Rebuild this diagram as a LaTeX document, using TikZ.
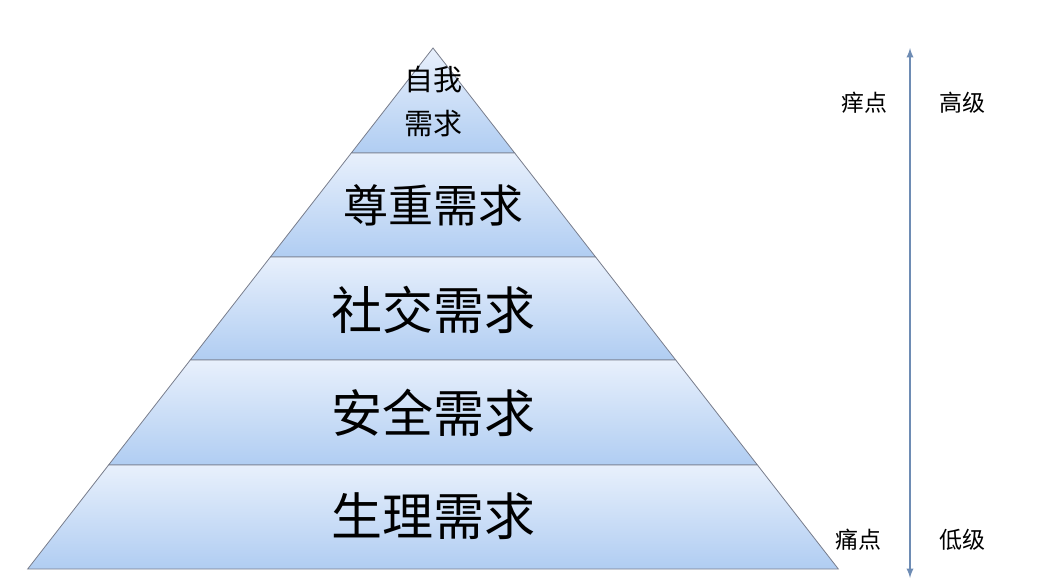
\documentclass[tikz,border=0pt]{standalone}
\usepackage{fontspec}
\setmainfont{Noto Sans CJK SC}
\definecolor{bandbot}{RGB}{176,205,242}
\definecolor{bandtop}{RGB}{232,240,252}
\definecolor{edge}{RGB}{120,125,140}
\definecolor{arr}{RGB}{110,140,180}
\begin{document}
\begin{tikzpicture}[x=1pt,y=-1pt,
  band/.style={top color=bandtop, bottom color=bandbot, draw=edge, line width=0.8pt},
  lab/.style={inner sep=0pt},
  side/.style={font=\fontsize{23}{24}\selectfont, inner sep=0pt}]
\useasboundingbox (0,0) rectangle (1048,582);
\foreach \a/\b in {48/153,153/257,257/360,360/465,465/569}{
  \pgfmathsetmacro\la{433-0.778*(\a-48)}
  \pgfmathsetmacro\ra{433+0.778*(\a-48)}
  \pgfmathsetmacro\lb{433-0.778*(\b-48)}
  \pgfmathsetmacro\rb{433+0.778*(\b-48)}
  \path[band] (\la,\a) -- (\ra,\a) -- (\rb,\b) -- (\lb,\b) -- cycle;
}
\node[lab,font=\fontsize{29}{44}\selectfont,align=center] (t1) at (433,101) {自我\\需求};
\node[lab,font=\fontsize{45}{46}\selectfont] (t2) at (433,205) {尊重需求};
\node[lab,font=\fontsize{51}{52}\selectfont] (t3) at (433,310) {社交需求};
\node[lab,font=\fontsize{51}{52}\selectfont] (t4) at (433,413) {安全需求};
\node[lab,font=\fontsize{51}{52}\selectfont] (t5) at (433,516) {生理需求};
\coordinate (top) at (910,48);
\coordinate (bot) at (910,578);
\draw[arr, line width=2.2pt, <->, >=latex] (bot) -- (top);
\node[side] (a) at (864,103) {痒点};
\node[side] (b) at (962,103) {高级};
\node[side] (c) at (858,540) {痛点};
\node[side] (d) at (962,540) {低级};
\end{tikzpicture}
\end{document}
